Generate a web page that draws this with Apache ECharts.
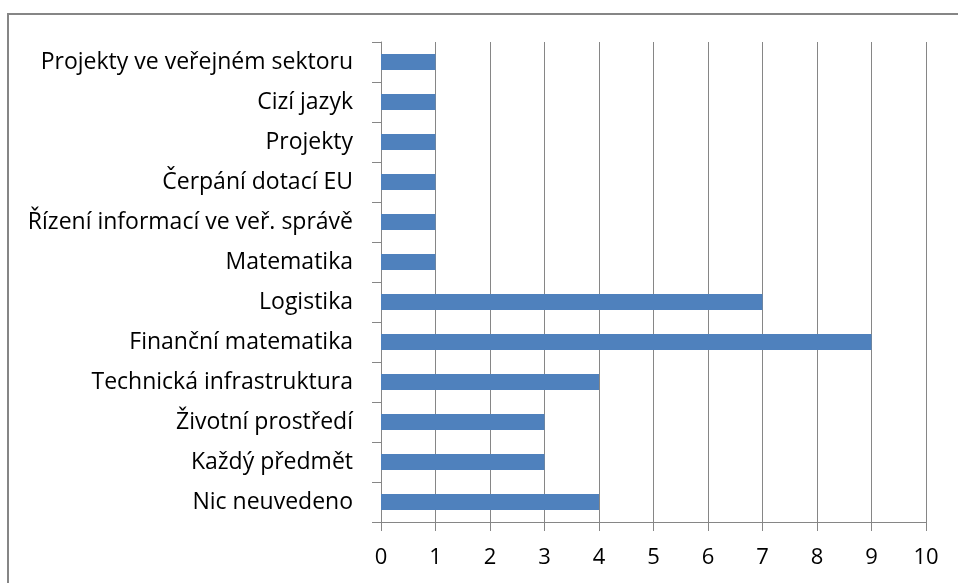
<!DOCTYPE html>
<html><head><meta charset="utf-8">
<script src="https://cdn.jsdelivr.net/npm/echarts@6/dist/echarts.min.js"></script>
<style>html,body{margin:0;padding:0;background:#fff;}#c{width:958px;height:583px;}</style>
</head><body><div id="c"></div>
<script>
const categories = ["Nic neuvedeno","Každý předmět","Životní prostředí","Technická infrastruktura","Finanční matematika","Logistika","Matematika","Řízení informací ve veř. správě","Čerpání dotací EU","Projekty","Cizí jazyk","Projekty ve veřejném sektoru"];
const values = [4,3,3,4,9,7,1,1,1,1,1,1];
const chart = echarts.init(document.getElementById('c'));
const gray = '#868686';
chart.setOption({
  animation:false,
  graphic:[{type:'rect',shape:{x:8,y:14,width:960,height:600},style:{fill:'none',stroke:'#868686',lineWidth:2}}],
  grid:{left:381,top:42,width:545,height:480},
  xAxis:{type:'value',min:0,max:10,interval:1,
    axisLine:{show:true,lineStyle:{color:gray}},
    axisTick:{show:true,length:9,lineStyle:{color:gray}},
    axisLabel:{color:'#000',fontFamily:'Open Sans',fontSize:22,margin:25},
    splitLine:{show:true,lineStyle:{color:gray,width:1}}},
  yAxis:{type:'category',data:categories,
    axisLine:{show:true,lineStyle:{color:gray}},
    axisTick:{show:true,length:9,alignWithLabel:false,lineStyle:{color:gray}},
    axisLabel:{color:'#000',fontFamily:'Open Sans',fontSize:23,margin:28}},
  series:[{type:'bar',data:values,barWidth:'40%',itemStyle:{color:'#4f81bd'}}]
});
</script></body></html>
